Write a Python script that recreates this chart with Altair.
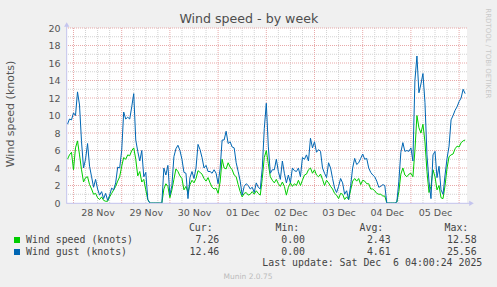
import altair as alt
import pandas as pd

# ---- data (hourly, from 2025-11-27 21:00 UTC) ----
speed = [5.0, 5.5, 5.8,
         3.8, 6.3, 7.1, 5.5, 3.8, 2.4, 2.9, 3.0, 2.1, 1.6,
         1.0, 1.1, 0.6, 0.4, 0.7, 0.3, 0.2, 0.2, 0.7, 1.1,
         1.5, 1.9, 2.5, 3.0, 4.2, 5.2, 5.0, 5.5, 5.4, 6.0,
         6.3, 5.0, 3.1, 3.6, 2.4, 2.7, 1.5, 0.4, 0.0, 0.0,
         0.0, 0.0, 0.0, 0.0, 0.0, 1.6, 2.2, 1.9, 0.6, 1.5,
         2.7, 3.9, 3.6, 3.1, 2.8, 1.5, 1.9, 1.2, 2.1, 2.6,
         2.3, 2.8, 3.7, 3.5, 3.3, 2.8, 2.5, 2.9, 2.3, 1.8,
         1.6, 1.7, 1.1, 2.4, 5.0, 4.0, 3.9, 4.6, 4.1, 3.8,
         3.2, 3.0, 2.1, 1.3, 0.7, 1.1, 1.2, 0.9, 1.0, 1.3,
         1.0, 1.4, 1.1, 0.9, 2.8, 5.2, 6.0, 4.5, 3.0, 2.6,
         2.3, 2.7, 2.2, 1.9, 2.4, 1.9, 0.9, 1.8, 2.3, 1.9,
         2.2, 2.0, 2.6, 2.0, 2.6, 3.2, 3.3, 3.8, 4.0, 3.4,
         3.8, 3.2, 3.0, 3.3, 2.7, 2.0, 2.6, 2.3, 1.9, 1.6,
         1.1, 0.9, 0.5, 1.1, 1.0, 0.4, 0.7, 0.4, 1.5, 2.5,
         2.8, 2.5, 2.8, 2.1, 2.6, 2.5, 2.2, 2.2, 1.6, 1.6,
         1.4, 1.1, 1.0, 1.0, 0.8, 0.8, 0.0, 0.0, 0.0, 0.0,
         0.0, 0.1, 1.3, 3.3, 4.0, 3.2, 3.0, 3.3, 3.4, 3.0,
         6.0, 10.0, 8.6, 8.0, 9.0, 7.0, 3.6, 1.2, 1.9, 3.8,
         3.0, 1.5, 2.0, 0.6, 0.5, 2.0, 4.0, 5.3, 5.5, 5.6,
         6.2, 6.5, 6.4, 6.9, 7.1, 7.2]

gust = [9.0, 9.6, 9.5,
        10.3, 10.0, 12.7, 11.2, 7.0, 4.0, 5.0, 6.8, 4.2, 3.0,
        1.8, 2.7, 1.6, 0.9, 1.3, 0.5, 1.1, 0.3, 0.9, 1.7,
        1.5, 2.3, 4.1, 4.0, 6.0, 10.4, 9.6, 9.8, 9.6, 11.0,
        12.5, 7.2, 5.9, 4.8, 6.0, 3.0, 3.5, 0.4, 0.0, 0.0,
        0.0, 0.0, 0.0, 0.0, 0.0, 4.0, 3.2, 4.3, 0.9, 2.0,
        5.3, 6.2, 6.6, 6.0, 5.0, 3.5, 3.4, 0.5, 2.9, 3.6,
        2.8, 4.0, 6.7, 6.1, 5.2, 4.0, 4.3, 3.6, 3.6, 3.4,
        3.8, 3.4, 2.2, 3.9, 7.2, 7.2, 8.2, 6.8, 7.0, 6.4,
        6.3, 4.6, 3.6, 2.5, 0.9, 1.9, 2.2, 2.0, 1.6, 1.8,
        1.2, 2.3, 1.8, 1.6, 4.0, 8.5, 11.4, 6.5, 3.4, 3.8,
        3.8, 5.0, 3.6, 2.7, 4.8, 3.4, 2.3, 3.2, 2.3, 4.0,
        3.7, 3.6, 4.0, 3.0, 5.2, 5.0, 5.5, 4.8, 7.4, 6.3,
        7.0, 5.8, 6.1, 5.9, 4.0, 3.4, 2.9, 4.6, 4.0, 2.8,
        1.7, 1.2, 1.9, 2.8, 2.3, 1.0, 1.4, 0.4, 2.0, 4.0,
        5.1, 4.4, 4.6, 5.1, 5.6, 5.0, 5.1, 4.0, 3.5, 3.2,
        3.0, 2.5, 1.8, 1.9, 2.1, 2.0, 0.0, 0.0, 0.0, 0.0,
        0.0, 0.1, 2.5, 5.8, 6.9, 5.9, 6.0, 5.9, 6.3, 4.8,
        14.0, 16.8, 12.6, 13.6, 14.8, 11.5, 5.5, 2.5, 0.5, 5.5,
        5.9, 2.9, 4.2, 1.5, 1.0, 3.2, 5.1, 6.5, 9.5, 10.0,
        10.6, 11.0, 11.6, 12.0, 13.0, 12.5]

series_names = ["Wind speed (knots)", "Wind gust (knots)"]
series_colors = ["#00CC00", "#0066B3"]
cur = [7.26, 12.46]
mins = [0.00, 0.00]
avgs = [2.43, 4.61]
maxs = [12.58, 25.56]
day_labels = [(11, 28), (11, 29), (11, 30), (12, 1), (12, 2), (12, 3), (12, 4), (12, 5)]
y_labels = [0, 2, 4, 6, 8, 10, 12, 14, 16, 18, 20]

start = pd.Timestamp("2025-11-27 21:00")
times = [(start + pd.Timedelta(hours=i)).strftime("%Y-%m-%dT%H:%M:%SZ") for i in range(len(speed))]
df = pd.DataFrame({"t": times, "speed": speed, "gust": gust})

dom_lo = pd.Timestamp("2025-11-27 20:46")
dom_hi = pd.Timestamp("2025-12-06 03:56")
xscale = alt.Scale(type="utc",
                   domain=[alt.DateTime(year=2025, month=11, date=27, hours=20, minutes=46, utc=True),
                           alt.DateTime(year=2025, month=12, date=6, hours=3, minutes=56, utc=True)])
yscale = alt.Scale(domain=[0, 20], nice=False, zero=True)

# grid positions
six = pd.date_range("2025-11-27 00:00", "2025-12-06 06:00", freq="6h")
minor_t = [t.strftime("%Y-%m-%dT%H:%M:%SZ") for t in six if dom_lo <= t <= dom_hi and t.hour != 0]
major_t = [t.strftime("%Y-%m-%dT%H:%M:%SZ") for t in six if dom_lo <= t <= dom_hi and t.hour == 0]
minor_y = list(range(1, 20, 2))
major_y = list(range(2, 21, 2))

MINOR = "#D2D2D2"
MAJOR = "#E8A8A8"
AXC = "#C4C4EE"

xaxis = alt.Axis(values=[alt.DateTime(year=2025, month=m, date=d, hours=12, utc=True) for m, d in day_labels],
                 format="%d %b", title=None, labelFont="DejaVu Sans", labelFontSize=9.5,
                 labelColor="#555555", domain=False, ticks=False, grid=False, labelPadding=4,
                 labelAngle=0, labelOverlap=False, labelFlush=False)
yaxis = alt.Axis(values=y_labels, title=None, labelFont="DejaVu Sans", labelFontSize=9.5,
                 labelColor="#555555", domain=False, ticks=False, grid=False, labelPadding=7)

X = lambda f: alt.X(f, scale=xscale, axis=xaxis)
Y = lambda f: alt.Y(f, scale=yscale, axis=yaxis)

vmin = alt.Chart(pd.DataFrame({"t": minor_t})).mark_rule(color=MINOR, strokeDash=[1, 1], strokeWidth=1).encode(
    x=X("t:T"))
hmin = alt.Chart(pd.DataFrame({"v": minor_y})).mark_rule(color=MINOR, strokeDash=[1, 1], strokeWidth=1).encode(
    y=Y("v:Q"))
vmaj = alt.Chart(pd.DataFrame({"t": major_t})).mark_rule(color=MAJOR, strokeDash=[1, 1], strokeWidth=1).encode(
    x=X("t:T"))
hmaj = alt.Chart(pd.DataFrame({"v": major_y})).mark_rule(color=MAJOR, strokeDash=[1, 1], strokeWidth=1).encode(
    y=Y("v:Q"))

speed_line = alt.Chart(df).mark_line(color=series_colors[0], strokeWidth=1, clip=True).encode(
    x=X("t:T"), y=Y("speed:Q"))
gust_line = alt.Chart(df).mark_line(color=series_colors[1], strokeWidth=1, clip=True).encode(
    x=X("t:T"), y=Y("gust:Q"))

one = pd.DataFrame({"a": [0]})

yline = alt.Chart(one).mark_rule(color=AXC, strokeWidth=1).encode(
    x=alt.value(-0.3), y=alt.value(-3), y2=alt.value(175.5))
xline = alt.Chart(one).mark_rule(color=AXC, strokeWidth=1).encode(
    x=alt.value(-0.5), x2=alt.value(403), y=alt.value(175.3))
uparrow = alt.Chart(one).mark_point(shape="triangle-up", filled=True, color=AXC, size=28, opacity=1).encode(
    x=alt.value(-0.3), y=alt.value(-3.5))
rarrow = alt.Chart(one).mark_point(shape="triangle-right", filled=True, color=AXC, size=28, opacity=1).encode(
    x=alt.value(404.5), y=alt.value(175.3))


def txt(s, x, y, size=9.9, font="DejaVu Sans Mono", color="#444444", align="left",
        baseline="alphabetic", angle=0):
    return alt.Chart(one).mark_text(text=s, fontSize=size, font=font, color=color, align=align,
                                    baseline=baseline, angle=angle).encode(
        x=alt.value(x), y=alt.value(y))


texts = [
    txt("Wind speed - by week", 181.8, -5, size=12.6, font="DejaVu Sans", color="#4d4d4d", align="center"),
    txt("Wind speed (knots)", -53, 86, size=11, font="DejaVu Sans", color="#555555", align="center", angle=270),
    txt("RRDTOOL / TOBI OETIKER", 420.8, 25.4, size=7, font="DejaVu Sans", color="#C8C8C8",
        align="center", baseline="middle", angle=90),
    txt("Cur:", 145.7, 203, align="right"),
    txt("Min:", 232.3, 203, align="right"),
    txt("Avg:", 316.3, 203, align="right"),
    txt("Max:", 401.3, 203, align="right"),
    txt("Last update: Sat Dec \u00a06 04:00:24 2025", 415.3, 238, align="right"),
    txt("Munin 2.0.75", 181, 251, size=7.5, font="DejaVu Sans", color="#BBBBBB", align="center"),
]

rows_y = [215, 227]
for i in range(2):
    yy = rows_y[i]
    texts.append(alt.Chart(one).mark_rect(color=series_colors[i]).encode(
        x=alt.value(-53), x2=alt.value(-47), y=alt.value(yy - 6), y2=alt.value(yy)))
    texts.append(txt(series_names[i], -41, yy))
    texts.append(txt(f"{cur[i]:.2f}", 152.3, yy, align="right"))
    texts.append(txt(f"{mins[i]:.2f}", 238, yy, align="right"))
    texts.append(txt(f"{avgs[i]:.2f}", 323.7, yy, align="right"))
    texts.append(txt(f"{maxs[i]:.2f}", 409.7, yy, align="right"))

chart = alt.layer(vmin, hmin, vmaj, hmaj, speed_line, gust_line, yline, xline, uparrow, rarrow, *texts).properties(
    width=400, height=175,
    autosize=alt.AutoSizeParams(type="none"),
    padding={"left": 67, "top": 28, "right": 30, "bottom": 84},
    background="#F0F0F0",
).configure_view(fill="white", stroke=None)

chart.save("out.html", embed_options={"renderer": "svg", "actions": False})
